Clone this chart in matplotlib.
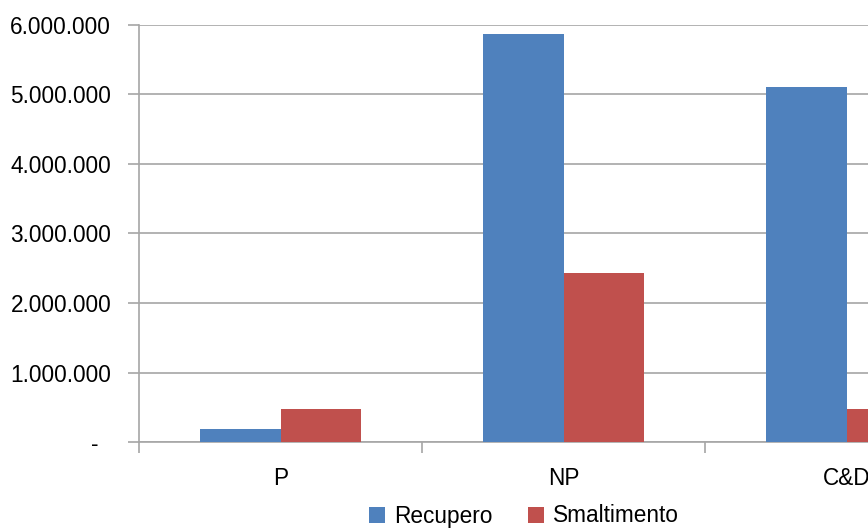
import matplotlib
matplotlib.use("Agg")
import matplotlib.pyplot as plt
import numpy as np

categories = ["P", "NP", "C&D"]
recupero = [180000, 5870000, 5110000]
smaltimento = [480000, 2430000, 470000]
series_names = ["Recupero", "Smaltimento"]
ytick_values = [0, 1000000, 2000000, 3000000, 4000000, 5000000, 6000000]
ytick_labels = ["-  ", "1.000.000", "2.000.000", "3.000.000", "4.000.000", "5.000.000", "6.000.000"]

plt.rcParams['font.family'] = ['Liberation Sans', 'DejaVu Sans']

W, H = 868, 528
fig = plt.figure(figsize=(W / 100, H / 100), dpi=100)
left, right, bottom, top = 139, 988, 442, 25
ax = fig.add_axes([left / W, (H - bottom) / H, (right - left) / W, (bottom - top) / H])

x = np.arange(len(categories))
w = 0.285
blue = "#4F81BD"
red = "#C0504D"
b1 = ax.bar(x - w / 2, recupero, w, color=blue, label=series_names[0], zorder=3)
b2 = ax.bar(x + w / 2, smaltimento, w, color=red, label=series_names[1], zorder=3)

ax.set_xlim(-0.5, len(categories) - 0.5)
ax.set_ylim(0, 6000000)
ax.set_yticks(ytick_values)
ax.set_yticklabels(ytick_labels, fontsize=16.3)
ax.yaxis.grid(True, color="#a6a6a6", linewidth=1.2, zorder=0)
ax.set_axisbelow(True)

ax.set_xticks(x)
ax.set_xticklabels(categories, fontsize=16.3)
ax.tick_params(axis="x", length=0, pad=18)
ax.set_xticks(np.arange(len(categories) + 1) - 0.5, minor=True)
ax.tick_params(axis="x", which="minor", length=8, color="#a6a6a6", width=1.2)
ax.tick_params(axis="y", length=8, color="#a6a6a6", width=1.2, pad=12)

for s in ["top", "right"]:
    ax.spines[s].set_visible(False)
ax.spines["left"].set_color("#a6a6a6")
ax.spines["left"].set_linewidth(1.2)
ax.spines["bottom"].set_color("#a6a6a6")
ax.spines["bottom"].set_linewidth(1.2)

fig.legend(handles=[b1, b2], loc="center", bbox_to_anchor=(524 / W, (H - 516) / H),
           ncol=2, frameon=False, fontsize=16.3, handlelength=0.7, handleheight=0.7,
           handletextpad=0.4, columnspacing=1.6)

fig.savefig("out.png", dpi=100)
